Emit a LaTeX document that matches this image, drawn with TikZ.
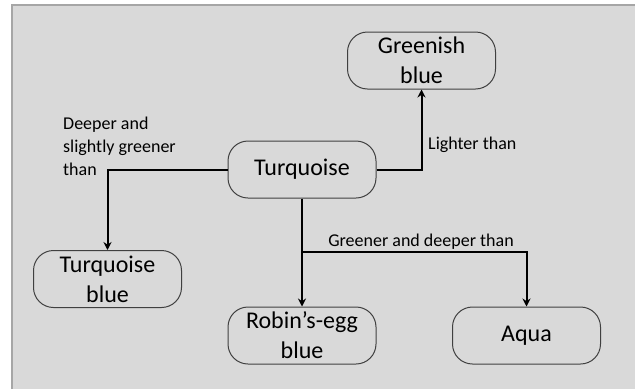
\documentclass[tikz,border=0pt]{standalone}
\usepackage{fontspec}
\setmainfont{Carlito}
\usetikzlibrary{arrows.meta}
\definecolor{panel}{HTML}{D9D9D9}
\definecolor{panelline}{HTML}{A6A6A6}
\definecolor{boxline}{HTML}{404040}
\tikzset{
  colorbox/.style={draw=boxline, line width=1pt, rounded corners=20pt,
    minimum width=148pt, minimum height=57pt, inner sep=0pt, align=center,
    font=\fontsize{24}{30}\selectfont},
  conn/.style={draw=black, line width=2pt, -{Stealth[length=8pt,width=8pt]}},
  lbl/.style={inner sep=0pt, align=left, font=\fontsize{18}{23}\selectfont}
}
\begin{document}
\begin{tikzpicture}[x=1pt,y=-1pt]
\useasboundingbox (0,0) rectangle (635,389);
\fill[white] (0,0) rectangle (635,389);
\fill[panel] (12,5) rectangle (635,389);
\draw[panelline, line width=1.5pt] (12,389) -- (12,5) -- (635,5);

\node[colorbox] (green) at (421.5,60.5) {Greenish\\blue};
\node[colorbox] (turq) at (302,169.5) {Turquoise};
\node[colorbox] (tblue) at (107.5,279) {Turquoise\\blue};
\node[colorbox] (robin) at (302,335.5) {Robin’s-egg\\blue};
\node[colorbox] (aqua) at (526.5,335.5) {Aqua};

\draw[conn] (turq.east) -| (green.south);
\draw[conn] (turq.west) -| (tblue.north);
\draw[conn] (turq.south) -- (robin.north);
\coordinate (br) at (302,252);
\draw[conn] (br) -| (aqua.north);

\node[lbl, anchor=west] (l1) at (428,145) {Lighter than};
\node[lbl, anchor=west] (l2) at (63,146) {Deeper and\\slightly greener\\than};
\node[lbl] (l3) at (421,242) {Greener and deeper than};
\end{tikzpicture}
\end{document}
